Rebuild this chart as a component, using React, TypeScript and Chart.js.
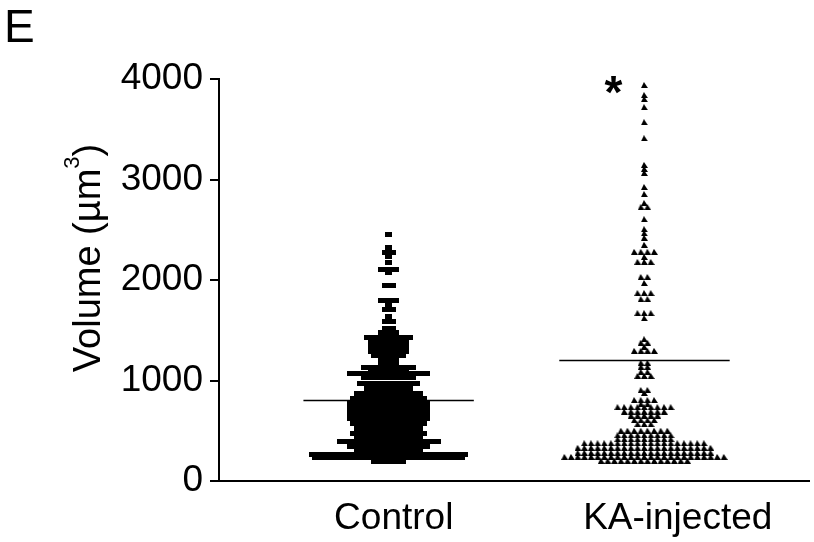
import React, { useEffect, useRef } from "react";
import { Chart, registerables } from "chart.js";

Chart.register(...registerables);

// ---------- data ----------
const GROUPS = ["Control", "KA-injected"];
const GROUP_CENTER = [1, 2];
const X_LABEL_AT = [1.02, 2.13];
const Y_TICKS = [0, 1000, 2000, 3000, 4000];
const MEANS = [800, 1200];
const PANEL_LABEL = "E";
const SIGNIFICANCE = "*";

// [volume, number of cells at that level]
const CONTROL_ROWS: [number, number][] = [
  [2450, 1], [2320, 1], [2270, 2], [2230, 1], [2170, 1], [2100, 3], [2070, 1],
  [1950, 2], [1800, 3], [1750, 1], [1710, 2], [1640, 1], [1585, 2], [1520, 2],
  [1475, 3], [1430, 7], [1375, 6], [1335, 6], [1285, 6], [1245, 5], [1205, 3],
  [1165, 3], [1125, 8], [1085, 6], [1065, 12], [1025, 8], [975, 9], [925, 7],
  [875, 10], [825, 11], [775, 12], [725, 12], [675, 12], [625, 12], [575, 11],
  [525, 10], [475, 11], [440, 10], [390, 15], [340, 12], [300, 10], [260, 23],
  [230, 22], [190, 5],
];

const KA_ROWS: [number, number][] = [
  [3940, 1], [3840, 1], [3800, 1], [3720, 1], [3570, 1], [3410, 1], [3145, 1],
  [3105, 1], [3065, 1], [2925, 1], [2855, 1], [2765, 1], [2725, 2], [2605, 1],
  [2505, 1], [2465, 1], [2420, 1], [2350, 1], [2280, 4], [2230, 1], [2180, 3],
  [2030, 2], [1970, 1], [1870, 3], [1810, 2], [1670, 3], [1620, 1], [1410, 1],
  [1375, 2], [1335, 1], [1295, 4], [1175, 2], [1135, 2], [1085, 2], [1045, 3],
  [905, 2], [875, 1], [805, 4], [765, 2], [735, 9], [690, 7], [650, 5], [605, 4],
  [565, 3], [500, 8], [455, 9], [415, 9], [375, 19], [330, 21], [280, 21],
  [240, 25], [200, 14],
];

// ---------- layout ----------
const X_MIN = 0.337;
const X_MAX = 2.643;
const PX_PER_UNIT = 258;
const MEAN_HALF = 0.333;
const FONT = '"Liberation Sans", Arial, Helvetica, sans-serif';

function swarm(rows: [number, number][], center: number, stepPx: number) {
  const step = stepPx / PX_PER_UNIT;
  const pts: { x: number; y: number }[] = [];
  rows.forEach(([v, n]) => {
    for (let k = 0; k < n; k++) {
      pts.push({ x: center + (k - (n - 1) / 2) * step, y: v });
    }
  });
  return pts;
}

function rectMarker(w: number, h: number) {
  const c = document.createElement("canvas");
  c.width = w;
  c.height = h;
  const g = c.getContext("2d")!;
  g.fillStyle = "#000";
  g.fillRect(0, 0, w, h);
  return c;
}

function triMarker(w: number, h: number) {
  const c = document.createElement("canvas");
  c.width = w;
  c.height = h;
  const g = c.getContext("2d")!;
  g.fillStyle = "#000";
  g.beginPath();
  g.moveTo(0, h);
  g.lineTo(w * 0.42, 0);
  g.lineTo(w, h);
  g.closePath();
  g.fill();
  return c;
}

const textPlugin = {
  id: "panelTexts",
  afterDraw(chart: any) {
    const ctx = chart.ctx as CanvasRenderingContext2D;
    const xs = chart.scales.x;
    const ys = chart.scales.y;
    ctx.save();
    ctx.fillStyle = "#000";
    // panel letter
    ctx.font = `46px ${FONT}`;
    ctx.textAlign = "left";
    ctx.textBaseline = "alphabetic";
    ctx.fillText(PANEL_LABEL, 4, 42);
    // significance star
    ctx.font = `bold 46px ${FONT}`;
    ctx.textAlign = "center";
    ctx.fillText(SIGNIFICANCE, xs.getPixelForValue(GROUP_CENTER[1]) - 31, ys.top + 29);
    // y axis title
    ctx.translate(100, (ys.top + ys.bottom) / 2 - 22);
    ctx.rotate(-Math.PI / 2);
    ctx.textAlign = "left";
    const main = "Volume (\u00b5m";
    const close = ")";
    const sup = "3";
    ctx.font = `38px ${FONT}`;
    const wm = ctx.measureText(main).width;
    const wc = ctx.measureText(close).width;
    ctx.font = `22px ${FONT}`;
    const ws = ctx.measureText(sup).width;
    const x0 = -(wm + ws + wc) / 2;
    ctx.font = `38px ${FONT}`;
    ctx.fillText(main, x0, 0);
    ctx.fillText(close, x0 + wm + ws, 0);
    ctx.font = `22px ${FONT}`;
    ctx.fillText(sup, x0 + wm, -21);
    ctx.restore();
  },
};

export default function App() {
  const ref = useRef<HTMLCanvasElement | null>(null);

  useEffect(() => {
    if (!ref.current) return;
    const ctrl = swarm(CONTROL_ROWS, GROUP_CENTER[0], 7);
    const ka = swarm(KA_ROWS, GROUP_CENTER[1], 6.7);
    const meanSets = MEANS.map((m, i) => ({
      type: "line" as const,
      data: [
        { x: GROUP_CENTER[i] - MEAN_HALF, y: m },
        { x: GROUP_CENTER[i] + MEAN_HALF, y: m },
      ],
      borderColor: "#000",
      borderWidth: 1.5,
      pointRadius: 0,
      showLine: true,
      fill: false,
    }));

    const chart = new Chart(ref.current, {
      type: "scatter",
      data: {
        datasets: [
          {
            label: GROUPS[0],
            data: ctrl,
            pointStyle: rectMarker(7, 5) as any,
            pointRadius: 4,
            backgroundColor: "#000",
            borderColor: "#000",
          },
          {
            label: GROUPS[1],
            data: ka,
            pointStyle: triMarker(7, 6) as any,
            pointRadius: 4,
            backgroundColor: "#000",
            borderColor: "#000",
          },
          ...(meanSets as any[]),
        ],
      },
      options: {
        responsive: false,
        devicePixelRatio: 1,
        animation: false,
        layout: { padding: { top: 79, left: 0, right: 0, bottom: 0 } },
        plugins: { legend: { display: false }, tooltip: { enabled: false } },
        scales: {
          x: {
            type: "linear",
            min: X_MIN,
            max: X_MAX,
            afterBuildTicks: (s: any) => {
              s.ticks = X_LABEL_AT.map((v) => ({ value: v }));
            },
            ticks: {
              callback: (_v: any, i: number) => GROUPS[i],
              font: { family: FONT, size: 37 },
              color: "#000",
              padding: 16,
              maxRotation: 0,
              autoSkip: false,
            },
            grid: { display: false, drawTicks: false },
            border: { display: true, color: "#000", width: 2 },
            afterFit: (s: any) => {
              s.height = 61;
            },
          },
          y: {
            type: "linear",
            min: 0,
            max: 4000,
            afterBuildTicks: (s: any) => {
              s.ticks = Y_TICKS.map((v) => ({ value: v }));
            },
            ticks: {
              font: { family: FONT, size: 37 },
              color: "#000",
              padding: 7,
              callback: (v: any) => String(v),
            },
            grid: {
              drawOnChartArea: false,
              drawTicks: true,
              tickLength: 9,
              color: "#000",
              lineWidth: 2,
            },
            border: { display: true, color: "#000", width: 2 },
            afterFit: (s: any) => {
              s.width = 219;
            },
          },
        },
      } as any,
      plugins: [textPlugin],
    });
    return () => chart.destroy();
  }, []);

  return (
    <div style={{ position: "fixed", left: 0, top: 0, width: 814, height: 542, background: "#fff" }}>
      <canvas ref={ref} width={814} height={542} style={{ display: "block" }} />
    </div>
  );
}
